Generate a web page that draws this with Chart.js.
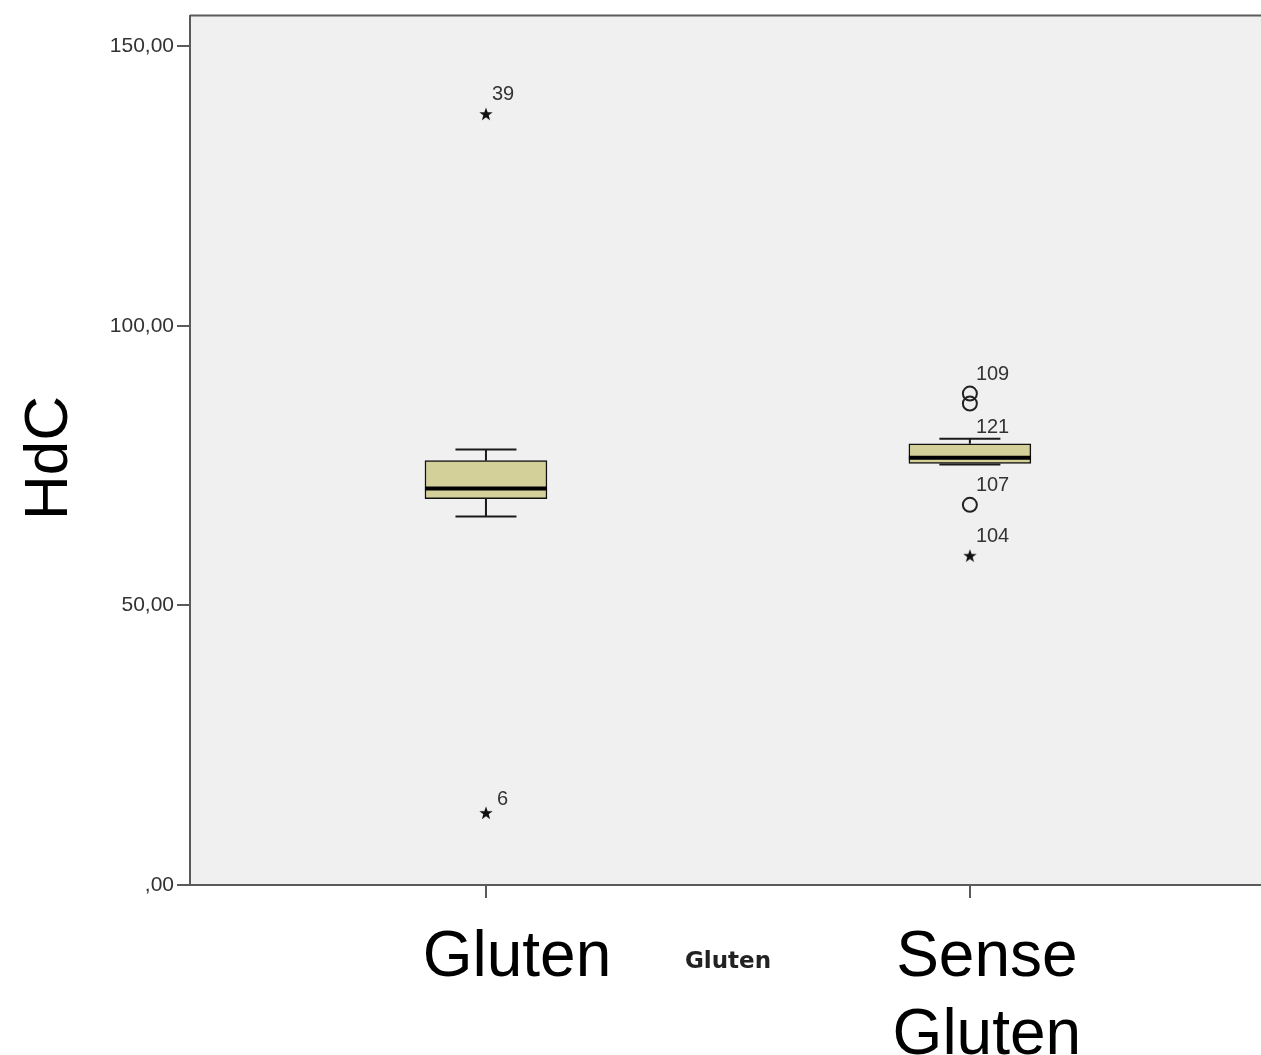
<!DOCTYPE html>
<html>
<head>
<meta charset="utf-8">
<script src="https://cdn.jsdelivr.net/npm/chart.js@4"></script>
<style>
  html, body { margin: 0; padding: 0; background: #fff; overflow: hidden; }
  #wrap { width: 1261px; height: 1055px; position: relative; }
  canvas { display: block; }
</style>
</head>
<body>
<div id="wrap"><canvas id="box-chart"></canvas></div>
<script>
// groups on the x axis (1 = Gluten, 2 = Sense Gluten)
const categories = ["Gluten", ["Sense", "Gluten"]]
const groupPos = [1, 2]
const xTitle = "Gluten"
const yTitle = "HdC"
const yTicks = [0, 50, 100, 150]

// box statistics
const q1 = [69.1, 75.4]
const q3 = [75.9, 78.9]
const median = [70.9, 76.4]
const whiskerLow = [65.9, 75.2]
const whiskerHigh = [77.9, 79.8]

// outliers (circles) and extremes (stars)
const outlierCase = ["109", "121", "107"]
const outlierGroup = [2, 2, 2]
const outlierValue = [87.9, 86.1, 68.0]

const extremeCase = ["39", "6", "104"]
const extremeGroup = [1, 1, 2]
const extremeValue = [137.9, 12.9, 58.9]

const boxWidth = 122
const lineCol = "#1a1a1a"
const axisCol = "#5a5a5a"

function makeStar(size) {
    let c = document.createElement("canvas")
    c.width = size
    c.height = size
    let g = c.getContext("2d")
    g.fillStyle = "#111"
    g.beginPath()
    for (let i = 0; i < 10; i++) {
        let r = i % 2 ? size * 0.2 : size * 0.5
        let a = -Math.PI / 2 + i * Math.PI / 5
        let px = size / 2 + r * Math.cos(a)
        let py = size / 2 + 0.5 + r * Math.sin(a)
        if (i == 0) g.moveTo(px, py)
        else g.lineTo(px, py)
    }
    g.closePath()
    g.fill()
    return c
}
const star = makeStar(14)

// label nudges for the case numbers (most sit up-right of the point)
const labelShift = { "121": [6, 29], "6": [11, -8] }

let bgPlugin = {
    id: "bg",
    beforeDraw(chart) {
        let { ctx, chartArea: a } = chart
        ctx.save()
        ctx.fillStyle = "#f0f0f0"
        ctx.fillRect(a.left, a.top, chart.width - a.left, a.bottom - a.top)
        ctx.strokeStyle = axisCol
        ctx.lineWidth = 2
        ctx.beginPath()
        ctx.moveTo(a.left, a.top)
        ctx.lineTo(chart.width, a.top)
        ctx.moveTo(a.left, a.bottom)
        ctx.lineTo(chart.width, a.bottom)
        ctx.stroke()
        ctx.restore()
    }
}

let boxPlugin = {
    id: "whiskers",
    afterDatasetsDraw(chart) {
        let ctx = chart.ctx
        let xs = chart.scales.x, ys = chart.scales.y
        ctx.save()
        ctx.strokeStyle = lineCol
        groupPos.forEach((g, i) => {
            let cx = xs.getPixelForValue(g)
            let half = boxWidth / 4
            ctx.lineWidth = 2
            ctx.beginPath()
            ctx.moveTo(cx, ys.getPixelForValue(q3[i]))
            ctx.lineTo(cx, ys.getPixelForValue(whiskerHigh[i]))
            ctx.moveTo(cx - half, ys.getPixelForValue(whiskerHigh[i]))
            ctx.lineTo(cx + half, ys.getPixelForValue(whiskerHigh[i]))
            ctx.moveTo(cx, ys.getPixelForValue(q1[i]))
            ctx.lineTo(cx, ys.getPixelForValue(whiskerLow[i]))
            ctx.moveTo(cx - half, ys.getPixelForValue(whiskerLow[i]))
            ctx.lineTo(cx + half, ys.getPixelForValue(whiskerLow[i]))
            ctx.stroke()
            ctx.lineWidth = 4
            ctx.strokeStyle = "#000"
            ctx.beginPath()
            ctx.moveTo(cx - boxWidth / 2, ys.getPixelForValue(median[i]))
            ctx.lineTo(cx + boxWidth / 2, ys.getPixelForValue(median[i]))
            ctx.stroke()
            ctx.strokeStyle = lineCol
        })
        // case labels
        ctx.fillStyle = "#333"
        ctx.font = "20px 'Liberation Sans', Arial, sans-serif"
        ctx.textAlign = "left"
        ctx.textBaseline = "alphabetic"
        let put = (lab, g, v) => {
            let s = labelShift[lab] || [6, -14]
            ctx.fillText(lab, xs.getPixelForValue(g) + s[0], ys.getPixelForValue(v) + s[1])
        }
        outlierCase.forEach((lab, i) => put(lab, outlierGroup[i], outlierValue[i]))
        extremeCase.forEach((lab, i) => put(lab, extremeGroup[i], extremeValue[i]))
        ctx.restore()
    }
}

let textPlugin = {
    id: "texts",
    afterDraw(chart) {
        let ctx = chart.ctx
        let xs = chart.scales.x
        ctx.save()
        ctx.fillStyle = "#000"
        ctx.textAlign = "center"
        ctx.textBaseline = "alphabetic"
        ctx.font = "64px 'Liberation Sans', Arial, sans-serif"
        let shifts = [31, 17]
        categories.forEach((lab, i) => {
            let lines = Array.isArray(lab) ? lab : [lab]
            let cx = xs.getPixelForValue(groupPos[i]) + shifts[i]
            lines.forEach((t, k) => ctx.fillText(t, cx, 976 + k * 78))
        })
        ctx.font = "bold 23px 'DejaVu Sans', sans-serif"
        ctx.fillStyle = "#222"
        ctx.fillText(xTitle, 728, 968)
        ctx.translate(67, 458)
        ctx.rotate(-Math.PI / 2)
        ctx.fillStyle = "#000"
        ctx.font = "62px 'Liberation Sans', Arial, sans-serif"
        ctx.fillText(yTitle, 0, 0)
        ctx.restore()
    }
}

let canvas = document.querySelector("#box-chart")
let ctx = canvas.getContext("2d")

let chart = new Chart(ctx, {
    type: "bar",
    data: {
        datasets: [{
            label: "box",
            data: groupPos.map((g, i) => ({ x: g, y: [q1[i], q3[i]] })),
            backgroundColor: "#d4d09a",
            borderColor: "#111",
            borderWidth: 1.5,
            borderSkipped: false,
            barThickness: boxWidth,
            order: 2
        }, {
            type: "scatter",
            label: "outliers",
            data: outlierGroup.map((g, i) => ({ x: g, y: outlierValue[i] })),
            pointStyle: "circle",
            pointRadius: 7,
            borderWidth: 2,
            borderColor: "#222",
            backgroundColor: "rgba(0,0,0,0)",
            order: 1
        }, {
            type: "scatter",
            label: "extremes",
            data: extremeGroup.map((g, i) => ({ x: g, y: extremeValue[i] })),
            pointStyle: star,
            order: 1
        }]
    },
    options: {
        responsive: true,
        maintainAspectRatio: false,
        animation: false,
        layout: { padding: { top: 14, left: 0, right: 0, bottom: 0 } },
        plugins: {
            legend: { display: false },
            tooltip: { enabled: false }
        },
        scales: {
            x: {
                type: "linear",
                offset: false,
                min: 0.3884,
                max: 2.583,
                afterBuildTicks: s => { s.ticks = groupPos.map(v => ({ value: v })) },
                afterFit: s => { s.height = 170; s.paddingRight = 0; s.paddingLeft = 0 },
                ticks: { callback: () => "", padding: 0 },
                grid: { offset: false, drawOnChartArea: false, color: axisCol, lineWidth: 2, tickLength: 13 },
                border: { color: axisCol, width: 2 }
            },
            y: {
                min: 0,
                max: 155.5,
                afterBuildTicks: s => { s.ticks = yTicks.map(v => ({ value: v })) },
                afterFit: s => { s.width = 190 },
                ticks: {
                    color: "#333",
                    padding: 3,
                    font: { family: "'Liberation Sans', Arial, sans-serif", size: 21 },
                    callback: v => v == 0 ? ",00" : v.toFixed(2).replace(".", ",")
                },
                grid: { drawOnChartArea: false, color: axisCol, lineWidth: 2, tickLength: 13 },
                border: { color: axisCol, width: 2 }
            }
        }
    },
    plugins: [bgPlugin, boxPlugin, textPlugin]
})
</script>
</body>
</html>
